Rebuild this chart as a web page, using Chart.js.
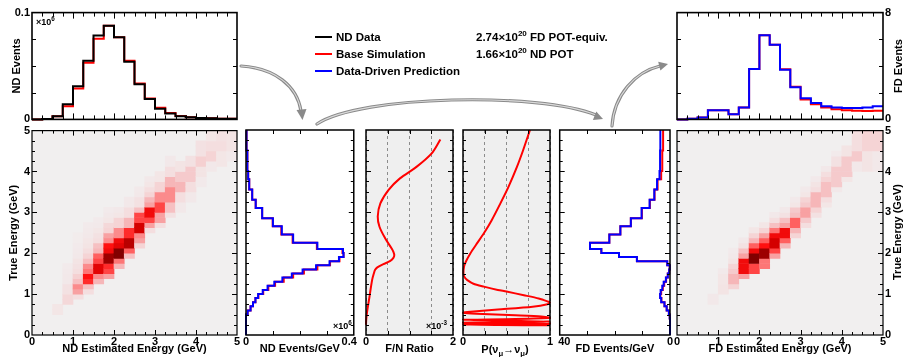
<!DOCTYPE html>
<html>
<head>
<meta charset="utf-8">
<title>ND to FD extrapolation</title>
<script src="https://cdn.jsdelivr.net/npm/chart.js@4.4.1/dist/chart.umd.min.js"></script>
<style>
  body { margin: 0; background: #fff; }
  #fig { position: relative; width: 907px; height: 357px; overflow: hidden; background: #fff;
         font-family: "Liberation Sans", Arial, sans-serif; font-weight: bold; color: #000; }
  #fig canvas { position: absolute; }
  .lbl { position: absolute; white-space: nowrap; line-height: 1; }
  .leg { font-size: 11.5px; }
  .swatch { position: absolute; width: 17px; height: 2px; }
  .small { font-size: 9px; }
  .vtitle { position: absolute; white-space: nowrap; font-size: 11px; line-height: 1;
            transform: translate(-50%, -50%) rotate(-90deg); }
  sup, sub { font-size: 70%; line-height: 0; }
  #arrows { position: absolute; left: 0; top: 0; }
</style>
</head>
<body>
<div id="fig">
  <svg id="arrows" width="907" height="357">
    <g fill="none" stroke-linecap="round">
      <path d="M241,66 C275,68 297,86 301,111" stroke="#8a8a8a" stroke-width="3.2"/>
      <path d="M241,66 C275,68 297,86 301,111" stroke="#dadada" stroke-width="1.1"/>
      <path d="M317,124 C360,95 540,92 596,115" stroke="#8a8a8a" stroke-width="3.2"/>
      <path d="M317,124 C360,95 540,92 596,115" stroke="#dadada" stroke-width="1.1"/>
      <path d="M612,126 C614,95 635,72 660,66" stroke="#8a8a8a" stroke-width="3.2"/>
      <path d="M612,126 C614,95 635,72 660,66" stroke="#dadada" stroke-width="1.1"/>
    </g>
    <g fill="#8a8a8a">
      <polygon points="296.5,110 306.5,109 302.5,120"/>
      <polygon points="592.9,120 596.3,111.5 603,119"/>
      <polygon points="660.4,70.6 658.2,61.8 668,64"/>
    </g>
  </svg>

  <div class="swatch" style="left:315px;top:36px;background:#000"></div>
  <div class="swatch" style="left:315px;top:53px;background:#f00"></div>
  <div class="swatch" style="left:315px;top:70px;background:#00f"></div>
  <div class="lbl leg" style="left:336px;top:32px">ND Data</div>
  <div class="lbl leg" style="left:336px;top:48.5px">Base Simulation</div>
  <div class="lbl leg" style="left:336px;top:65.5px">Data-Driven Prediction</div>
  <div class="lbl leg" style="left:476px;top:32px">2.74×10<sup>20</sup> FD POT-equiv.</div>
  <div class="lbl leg" style="left:476px;top:48.5px">1.66×10<sup>20</sup> ND POT</div>

  <div class="lbl small" style="left:36px;top:18px">×10<sup>6</sup></div>
  <div class="lbl small" style="left:333px;top:322px">×10<sup>6</sup></div>
  <div class="lbl small" style="left:426px;top:322px">×10<sup>-3</sup></div>

  <div class="lbl" style="left:505px;top:344px;font-size:11px;transform:translateX(-50%)">P(ν<sub>μ</sub>→ν<sub>μ</sub>)</div>
  <div class="vtitle" style="left:898px;top:66px">FD Events</div>
  <div class="vtitle" style="left:897px;top:232px">True Energy (GeV)</div>
</div>

<script>
// ---- binning ----
const recoEdges = [0, 0.25, 0.5, 0.75, 1, 1.25, 1.5, 1.75, 2, 2.25, 2.5, 2.75, 3, 3.25, 3.5, 3.75, 4, 4.25, 4.5, 4.75, 5];
const trueEdges = [0, 0.1, 0.2, 0.3, 0.4, 0.5, 0.6, 0.7, 0.8, 0.9, 1, 1.1, 1.2, 1.3, 1.4, 1.5, 1.6, 1.7, 1.8, 1.9, 2,
                   2.1, 2.25, 2.45, 2.65, 2.85, 3.1, 3.3, 3.55, 3.8, 4, 4.5, 5];
const cellHeight = 0.125;

// ---- top histograms (events per reco bin) ----
const ndDataEvents = [0, 0.0003, 0.003, 0.0143, 0.031, 0.055, 0.0786, 0.0876, 0.077, 0.054, 0.033, 0.019, 0.010, 0.0056, 0.003, 0.0019, 0.0012, 0.001, 0.0006, 0.0006];
const ndSimEvents  = [0, 0.0003, 0.003, 0.0124, 0.029, 0.053, 0.0755, 0.0876, 0.077, 0.055, 0.0335, 0.0196, 0.011, 0.006, 0.0032, 0.002, 0.0013, 0.001, 0.0007, 0.0006];
const fdPredEvents = [0, 0.05, 0.15, 0.69, 0.69, 0.39, 0.89, 3.77, 6.3, 5.6, 3.72, 2.41, 1.58, 1.23, 0.99, 0.89, 0.86, 0.86, 0.89, 0.99];
const fdSimEvents  = [0, 0.05, 0.15, 0.69, 0.69, 0.39, 0.89, 3.77, 6.3, 5.6, 3.75, 2.45, 1.5, 1.13, 0.89, 0.76, 0.69, 0.64, 0.62, 0.64];

// ---- true energy spectra ----
const ndPredPerGeV = [0, 0, 0, 0, 0, 0.006, 0.017, 0.026, 0.035, 0.045, 0.062, 0.08, 0.105, 0.135, 0.17, 0.21, 0.26, 0.31, 0.345, 0.362,
                      0.36, 0.265, 0.175, 0.133, 0.1, 0.06, 0.036, 0.023, 0.012, 0.008, 0.005, 0.002];
const ndSimPerGeV  = [0, 0, 0, 0, 0, 0.006, 0.017, 0.026, 0.035, 0.046, 0.064, 0.083, 0.108, 0.14, 0.175, 0.215, 0.265, 0.312, 0.347, 0.362,
                      0.358, 0.263, 0.173, 0.131, 0.099, 0.06, 0.036, 0.023, 0.012, 0.008, 0.005, 0.002];
const fdPredPerGeV = [0, 0, 0, 0, 0.1, 0.4, 1.2, 2.0, 3.2, 3.6, 3.4, 2.8, 2.3, 1.5, 0.8, 0.3, 0.1, 1.0, 12, 18.5,
                      24.9, 29, 22, 18, 14.2, 10.3, 7.4, 5.7, 4.7, 3.8, 3.6, 3.5];
const fdSimPerGeV  = [0, 0, 0, 0, 0.1, 0.4, 1.2, 2.0, 3.1, 3.5, 3.2, 2.6, 2.1, 1.4, 0.8, 0.3, 0.1, 1.0, 12, 18.5,
                      24.9, 29, 22, 18, 14.2, 10.2, 7.3, 5.6, 4.5, 3.2, 2.8, 2.5];

// ---- F/N ratio and survival probability ----
const fnEnergy = [0.25, 0.37, 0.53, 0.93, 1.34, 1.5, 1.59, 1.65, 1.73, 1.8, 1.88, 1.95, 2.03, 2.11, 2.36, 2.64, 2.89, 3.21, 3.54, 3.82, 4.1, 4.43, 4.77];
const fnRatio  = [0, 0.005, 0.02, 0.08, 0.14, 0.18, 0.21, 0.26, 0.40, 0.55, 0.63, 0.65, 0.63, 0.59, 0.44, 0.31, 0.27, 0.33, 0.52, 0.78, 1.16, 1.51, 1.71];
const pEnergy = [0.235, 0.245, 0.255, 0.265, 0.275, 0.29, 0.30, 0.315, 0.33, 0.35, 0.37, 0.39, 0.42, 0.45, 0.48, 0.52, 0.545, 0.56, 0.62, 0.69,
                 0.75, 0.79, 0.82, 0.89, 0.97, 1.06, 1.1, 1.18, 1.25, 1.34, 1.4, 1.5, 1.67, 1.8, 1.99, 2.2, 2.48, 2.8, 3.21, 3.6, 4.1, 4.5, 5.0];
const pSurvival = [1.0, 0.4, 0.0, 0.5, 1.0, 0.5, 0.0, 0.5, 1.0, 0.5, 0.0, 0.6, 1.0, 0.9, 0.6, 0.15, 0.0, 0.05, 0.4, 0.8,
                   0.97, 1.0, 0.97, 0.87, 0.7, 0.5, 0.4, 0.24, 0.12, 0.05, 0.02, 0.005, 0.012, 0.035, 0.084, 0.15, 0.24, 0.33, 0.43, 0.52, 0.62, 0.69, 0.77];

// ---- 2D reco vs true (relative intensity); per reco column: first true energy, then cells of 0.125 GeV ----
const ndColStart = [0, 0, 0.5, 0.75, 0.875, 1.0, 1.25, 1.375, 1.625, 1.875, 2.125, 2.5, 2.625, 2.875, 3.0, 3.25, 3.625, 4.0, 4.125, 4.25];
const ndColCells = [
  [], [],
  [0.08, 0.08],
  [0.18, 0.18, 0.12, 0.12, 0.06, 0.06, 0.05, 0.04],
  [0.15, 0.4, 0.45, 0.3, 0.22, 0.15, 0.12, 0.1, 0.06, 0.05, 0.04, 0.03, 0.03],
  [0.15, 0.3, 0.65, 0.7, 0.5, 0.45, 0.3, 0.2, 0.15, 0.1, 0.08, 0.06, 0.05, 0.04],
  [0.35, 0.45, 0.8, 0.8, 0.6, 0.55, 0.35, 0.3, 0.15, 0.12, 0.08, 0.05, 0.04],
  [0.4, 0.6, 0.65, 0.95, 0.95, 0.75, 0.7, 0.45, 0.4, 0.2, 0.18, 0.08, 0.06, 0.04],
  [0.35, 0.5, 1.0, 1.0, 0.8, 0.75, 0.45, 0.45, 0.2, 0.2, 0.08, 0.06],
  [0.3, 0.55, 0.9, 0.9, 0.65, 0.65, 0.35, 0.35, 0.15, 0.15, 0.06, 0.06],
  [0.2, 0.4, 0.45, 0.85, 0.85, 0.6, 0.6, 0.3, 0.12, 0.12, 0.06, 0.05],
  [0.15, 0.4, 0.6, 0.75, 0.75, 0.4, 0.35, 0.2, 0.15, 0.08, 0.06],
  [0.15, 0.4, 0.4, 0.6, 0.6, 0.45, 0.45, 0.2, 0.2, 0.08, 0.08],
  [0.12, 0.3, 0.3, 0.45, 0.45, 0.45, 0.35, 0.35, 0.15, 0.15, 0.06, 0.06],
  [0.06, 0.06, 0.15, 0.15, 0.35, 0.35, 0.25, 0.25, 0.1, 0.1],
  [0.06, 0.06, 0.15, 0.15, 0.25, 0.25, 0.25, 0.12, 0.12],
  [0.05, 0.05, 0.1, 0.1, 0.22, 0.22, 0.12, 0.12, 0.12],
  [0.06, 0.06, 0.2, 0.2, 0.15, 0.15, 0.08, 0.08],
  [0.08, 0.08, 0.08, 0.15, 0.15, 0.12, 0.12],
  [0.05, 0.05, 0.1, 0.1, 0.1, 0.1]
];
const fdColStart = [0, 0, 0, 0.75, 1.0, 1.125, 1.375, 1.5, 1.625, 1.875, 2.125, 2.375, 2.625, 2.875, 3.125, 3.5, 3.75, 4.0, 4.0, 4.0];
const fdColCells = [
  [], [], [],
  [0.06, 0.06],
  [0.1, 0.1, 0.08, 0.08, 0.05],
  [0.2, 0.35, 0.35, 0.25, 0.2, 0.1, 0.06, 0.04],
  [0.4, 0.75, 0.75, 0.75, 0.4, 0.3, 0.12, 0.06],
  [0.6, 0.6, 1.0, 1.0, 0.75, 0.55, 0.35, 0.2, 0.08],
  [0.5, 0.5, 0.95, 0.95, 0.7, 0.55, 0.4, 0.2, 0.08],
  [0.4, 0.6, 0.85, 0.85, 0.75, 0.5, 0.3, 0.15, 0.06],
  [0.35, 0.55, 0.75, 0.75, 0.4, 0.3, 0.12, 0.06],
  [0.2, 0.35, 0.55, 0.55, 0.3, 0.25, 0.08, 0.05],
  [0.15, 0.25, 0.4, 0.4, 0.25, 0.2, 0.08, 0.05],
  [0.12, 0.2, 0.35, 0.35, 0.35, 0.15, 0.1, 0.05],
  [0.08, 0.15, 0.3, 0.3, 0.3, 0.2, 0.15, 0.06],
  [0.06, 0.25, 0.25, 0.25, 0.25, 0.12, 0.12, 0.04],
  [0.08, 0.25, 0.25, 0.25, 0.25, 0.1, 0.1],
  [0.06, 0.06, 0.25, 0.25, 0.15, 0.15, 0.15, 0.15],
  [0.1, 0.1, 0.1, 0.1, 0.2, 0.2, 0.2, 0.2],
  [0.06, 0.06, 0.06, 0.06, 0.2, 0.2, 0.2, 0.2]
];

// ---- styling ----
const RED = '#ff0000', BLUE = '#0000ff', BLACK = '#000000';
const heatStops = [[0, [241, 239, 239]], [0.15, [244, 222, 223]], [0.35, [246, 182, 184]], [0.55, [255, 96, 96]],
                   [0.7, [255, 16, 16]], [0.85, [212, 0, 0]], [1, [130, 0, 0]]];

Chart.defaults.font.family = '"Liberation Sans", Arial, sans-serif';
Chart.defaults.font.size = 11;
Chart.defaults.font.weight = 'bold';
Chart.defaults.color = '#000';

function heatColour(v) {
  for (let i = 1; i < heatStops.length; i++) {
    const [v1, c1] = heatStops[i];
    if (v <= v1) {
      const [v0, c0] = heatStops[i - 1];
      const t = (v - v0) / (v1 - v0);
      const c = c0.map((a, k) => Math.round(a + (c1[k] - a) * t));
      return `rgb(${c[0]},${c[1]},${c[2]})`;
    }
  }
  return 'rgb(130,0,0)';
}

// histogram along x: left edge points, then right edge of last bin
function hStep(edges, vals) {
  const pts = vals.map((v, i) => ({x: edges[i], y: v}));
  pts.push({x: edges[edges.length - 1], y: vals[vals.length - 1]});
  return pts;
}
// histogram along y (energy on the vertical axis)
function vStep(edges, vals) {
  const pts = vals.map((v, i) => ({x: v, y: edges[i]}));
  pts.push({x: vals[vals.length - 1], y: edges[edges.length - 1]});
  return pts;
}
function heatCells(starts, cols) {
  const out = [];
  cols.forEach((col, i) => col.forEach((v, j) => {
    const lo = starts[i] + j * cellHeight;
    out.push({x: (recoEdges[i] + recoEdges[i + 1]) / 2, y: [lo, lo + cellHeight], v});
  }));
  return out;
}

// frame, background and inward ticks in the ROOT style
const rootFrame = {
  id: 'rootFrame',
  beforeDraw(chart, args, o) {
    const a = chart.chartArea, ctx = chart.ctx;
    ctx.save();
    ctx.fillStyle = o.fill || '#fff';
    ctx.fillRect(a.left, a.top, a.right - a.left, a.bottom - a.top);
    ctx.restore();
  },
  afterDatasetsDraw(chart, args, o) {
    const a = chart.chartArea, ctx = chart.ctx;
    ctx.save();
    ctx.strokeStyle = '#000';
    ctx.lineWidth = 1;
    ctx.beginPath();
    const marks = (scale, t, horizontal) => {
      if (!t) return;
      const [minor, major, shortLen, longLen] = t;
      const n = Math.round((scale.max - scale.min) / minor);
      for (let k = 1; k < n; k++) {
        const v = scale.min + k * minor;
        const r = v / major;
        const len = Math.abs(r - Math.round(r)) < 1e-6 ? longLen : shortLen;
        const p = Math.round(scale.getPixelForValue(v)) + 0.5;
        if (horizontal) {
          ctx.moveTo(p, a.bottom); ctx.lineTo(p, a.bottom - len);
          ctx.moveTo(p, a.top); ctx.lineTo(p, a.top + len);
        } else {
          ctx.moveTo(a.left, p); ctx.lineTo(a.left + len, p);
          ctx.moveTo(a.right, p); ctx.lineTo(a.right - len, p);
        }
      }
    };
    marks(chart.scales.x, o.xt, true);
    marks(chart.scales.y, o.yt, false);
    ctx.stroke();
    ctx.lineWidth = o.lw || 1.5;
    ctx.strokeRect(a.left, a.top, a.right - a.left, a.bottom - a.top);
    ctx.restore();
  }
};
Chart.register(rootFrame);

const fig = document.getElementById('fig');
const arrows = document.getElementById('arrows');

function axis(min, max, extra) {
  return Object.assign({
    type: 'linear', min, max, offset: false,
    grid: {display: false, drawTicks: false, offset: false},
    border: {display: false},
    ticks: {display: false}
  }, extra || {});
}
const titleFont = {size: 11, weight: 'bold'};

// plot = chart area in page pixels, m = room around it for the axes
function panel(plot, m, ySide, cfg) {
  const cv = document.createElement('canvas');
  cv.width = plot.w + m.l + m.r;
  cv.height = plot.h + m.t + m.b;
  cv.style.left = (plot.x - m.l) + 'px';
  cv.style.top = (plot.y - m.t) + 'px';
  fig.insertBefore(cv, arrows);
  const scales = cfg.scales;
  scales.x.position = 'bottom';
  scales.x.afterFit = s => { s.height = m.b; };
  scales.y.position = ySide;
  scales.y.afterFit = s => { s.width = ySide === 'right' ? m.r : m.l; };
  return new Chart(cv, {
    type: cfg.type,
    data: {datasets: cfg.datasets},
    options: {
      responsive: false,
      animation: false,
      events: [],
      indexAxis: cfg.indexAxis || 'x',
      layout: {padding: {top: m.t, bottom: 0,
                         left: ySide === 'left' ? 0 : m.l,
                         right: ySide === 'right' ? 0 : m.r}},
      plugins: {legend: {display: false}, tooltip: {enabled: false}, rootFrame: cfg.frame},
      scales
    }
  });
}

function stepLine(data, colour, stepped) {
  return {data, borderColor: colour, borderWidth: 2, pointRadius: 0, stepped, clip: 3};
}
function heatDataset(cells) {
  return {data: cells, backgroundColor: c => heatColour(c.raw ? c.raw.v : 0),
          borderWidth: 0, barPercentage: 1, categoryPercentage: 1};
}

// ND reco spectrum (top left)
panel({x: 32, y: 12, w: 205, h: 108}, {l: 32, r: 6, t: 8, b: 8}, 'left', {
  type: 'line',
  datasets: [stepLine(hStep(recoEdges, ndDataEvents), BLACK, 'before'),
             stepLine(hStep(recoEdges, ndSimEvents), RED, 'before')],
  scales: {
    x: axis(0, 5),
    y: axis(0, 0.1, {ticks: {stepSize: 0.1, padding: 2},
                     title: {display: true, text: 'ND Events', font: titleFont, padding: {top: 10, bottom: 0}}})
  },
  frame: {fill: '#fff', lw: 1.6, xt: [0.25, 1, 4, 6], yt: [0.025, 0.025, 4, 4]}
});

// FD reco spectrum (top right)
panel({x: 677, y: 12, w: 206, h: 108}, {l: 8, r: 14, t: 8, b: 8}, 'right', {
  type: 'line',
  datasets: [stepLine(hStep(recoEdges, fdPredEvents), BLUE, 'before'),
             stepLine(hStep(recoEdges, fdSimEvents), RED, 'before')],
  scales: {
    x: axis(0, 5),
    y: axis(0, 8, {ticks: {stepSize: 8, padding: 2}})
  },
  frame: {fill: '#fff', lw: 1.6, xt: [0.25, 1, 4, 6], yt: [2, 2, 4, 4]}
});

// ND reco vs true
panel({x: 32, y: 130, w: 205, h: 205}, {l: 32, r: 6, t: 8, b: 21}, 'left', {
  type: 'bar',
  datasets: [heatDataset(heatCells(ndColStart, ndColCells))],
  scales: {
    x: axis(0, 5, {ticks: {stepSize: 1, padding: 0, maxRotation: 0},
                   title: {display: true, text: 'ND Estimated Energy (GeV)', font: titleFont, padding: 0}}),
    y: axis(0, 5, {ticks: {stepSize: 1, padding: 2},
                   title: {display: true, text: 'True Energy (GeV)', font: titleFont, padding: {top: 7, bottom: 0}}})
  },
  frame: {fill: '#f1efef', lw: 1.2, xt: [0.25, 1, 3, 5], yt: [0.25, 1, 3, 5]}
});

// ND true energy spectrum
panel({x: 246, y: 130, w: 110, h: 205}, {l: 10, r: 10, t: 8, b: 21}, 'left', {
  type: 'line', indexAxis: 'y',
  datasets: [stepLine(vStep(trueEdges, ndPredPerGeV), BLUE, 'after'),
             stepLine(vStep(trueEdges, ndSimPerGeV), RED, 'after')],
  scales: {
    x: axis(0, 0.4, {ticks: {stepSize: 0.4, padding: 0, maxRotation: 0,
                             callback: v => v === 0.4 ? '0.4   ' : v},
                     title: {display: true, text: 'ND Events/GeV', font: titleFont, padding: 0}}),
    y: axis(0, 5)
  },
  frame: {fill: '#fff', lw: 1.5, xt: [0.1, 0.1, 4, 4], yt: [0.25, 1, 3, 5]}
});

// far/near ratio
panel({x: 366, y: 130, w: 87, h: 205}, {l: 10, r: 10, t: 8, b: 21}, 'left', {
  type: 'line', indexAxis: 'y',
  datasets: [{data: fnEnergy.map((e, i) => ({x: fnRatio[i], y: e})), borderColor: RED, borderWidth: 2,
              pointRadius: 0, tension: 0.3, clip: 3}],
  scales: {
    x: axis(0, 2, {ticks: {stepSize: 0.5, padding: 0, maxRotation: 0, autoSkip: false,
                           callback: v => (v === 0 || v === 2) ? v : ''},
                   grid: {display: true, drawTicks: false, color: '#8c8c8c', lineWidth: 1},
                   border: {display: false, dash: [3, 3]},
                   title: {display: true, text: 'F/N Ratio', font: titleFont, padding: 0}}),
    y: axis(0, 5)
  },
  frame: {fill: '#efefef', lw: 1.5, xt: [0.5, 0.5, 4, 4], yt: [0.25, 1, 3, 5]}
});

// muon neutrino survival probability
panel({x: 463, y: 130, w: 87, h: 205}, {l: 10, r: 10, t: 8, b: 21}, 'left', {
  type: 'line', indexAxis: 'y',
  datasets: [{data: pEnergy.map((e, i) => ({x: pSurvival[i], y: e})), borderColor: RED, borderWidth: 2,
              pointRadius: 0, tension: 0.25, clip: 3}],
  scales: {
    x: axis(0, 1, {ticks: {stepSize: 0.25, padding: 0, maxRotation: 0, autoSkip: false,
                           callback: v => (v === 0 || v === 1) ? v : ''},
                   grid: {display: true, drawTicks: false, color: '#8c8c8c', lineWidth: 1},
                   border: {display: false, dash: [3, 3]}}),
    y: axis(0, 5)
  },
  frame: {fill: '#efefef', lw: 1.5, xt: [0.25, 0.25, 4, 4], yt: [0.25, 1, 3, 5]}
});

// FD true energy spectrum (reversed axis)
panel({x: 559, y: 130, w: 111, h: 205}, {l: 10, r: 7, t: 8, b: 21}, 'left', {
  type: 'line', indexAxis: 'y',
  datasets: [stepLine(vStep(trueEdges, fdPredPerGeV), BLUE, 'after'),
             stepLine(vStep(trueEdges, fdSimPerGeV), RED, 'after')],
  scales: {
    x: axis(0, 40, {reverse: true, ticks: {stepSize: 40, padding: 0, maxRotation: 0,
                                           callback: v => v === 40 ? '   40' : v},
                    title: {display: true, text: 'FD Events/GeV', font: titleFont, padding: 0}}),
    y: axis(0, 5)
  },
  frame: {fill: '#fff', lw: 1.5, xt: [10, 10, 4, 4], yt: [0.25, 1, 3, 5]}
});

// FD reco vs true
panel({x: 677, y: 130, w: 206, h: 205}, {l: 8, r: 14, t: 8, b: 21}, 'right', {
  type: 'bar',
  datasets: [heatDataset(heatCells(fdColStart, fdColCells))],
  scales: {
    x: axis(0, 5, {ticks: {stepSize: 1, padding: 0, maxRotation: 0},
                   title: {display: true, text: 'FD Estimated Energy (GeV)', font: titleFont, padding: 0}}),
    y: axis(0, 5, {ticks: {stepSize: 1, padding: 2}})
  },
  frame: {fill: '#f1efef', lw: 1.2, xt: [0.25, 1, 3, 5], yt: [0.25, 1, 3, 5]}
});
</script>
</body>
</html>
